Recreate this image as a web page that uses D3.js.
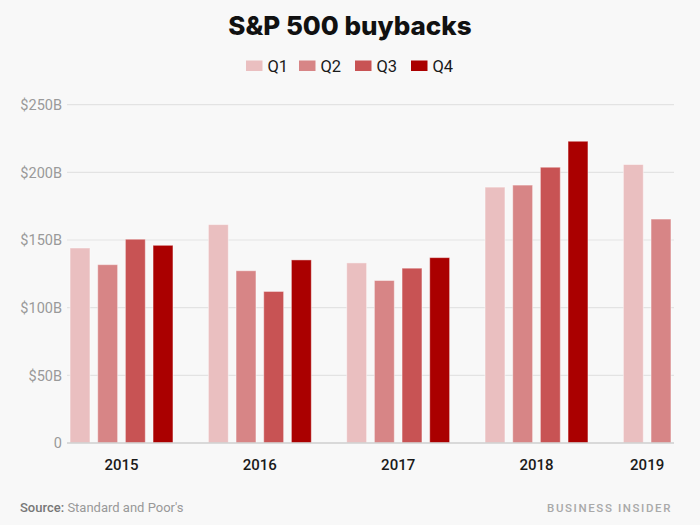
<!DOCTYPE html>
<html><head><meta charset="utf-8">
<script src="https://cdn.jsdelivr.net/npm/d3@7"></script>
<style>
html,body{margin:0;padding:0;background:#f8f8f8;}
svg{display:block;}
</style></head>
<body>
<script>
const years = ["2015","2016","2017","2018","2019"];
const quarters = ["Q1","Q2","Q3","Q4"];
const q1 = [144.1, 161.4, 133.1, 189.1, 205.8];
const q2 = [131.8, 127.3, 120.1, 190.6, 165.5];
const q3 = [150.6, 112.0, 129.2, 203.8, null];
const q4 = [146.1, 135.3, 137.0, 223.0, null];
const yTicks = [0, 50, 100, 150, 200, 250];
const colors = ["#eabfc0", "#d78586", "#c85354", "#aa0000"];

const W = 700, H = 525;
const svg = d3.select("body").append("svg").attr("width", W).attr("height", H);
svg.append("rect").attr("width", W).attr("height", H).attr("fill", "#f8f8f8");

const pL = 67, pR = 674, pT = 104.7, pB = 443;

const series = [q1, q2, q3, q4];
const data = [];
const slots = [];
years.forEach((yr, i) => {
  const n = (i === years.length - 1) ? 2 : 5;
  for (let s = 0; s < n; s++) slots.push(yr + "-" + s);
  quarters.forEach((q, j) => {
    const v = series[j][i];
    if (v != null) data.push({year: yr, q: j, key: yr + "-" + j, value: v});
  });
});

const x = d3.scaleBand().domain(slots).range([pL, pR]).paddingInner(0.28).paddingOuter(0.11);
const y = d3.scaleLinear().domain([0, 250]).range([pB, pT]);

svg.append("g").selectAll("line").data(yTicks.filter(d => d > 0)).join("line")
  .attr("x1", pL).attr("x2", pR)
  .attr("y1", d => y(d)).attr("y2", d => y(d))
  .attr("stroke", "#e3e3e3").attr("stroke-width", 1.2);

svg.append("g").selectAll("text").data(yTicks).join("text")
  .attr("x", 62).attr("y", d => y(d)).attr("dy", "0.36em")
  .attr("text-anchor", "end")
  .attr("font-family", "Roboto, sans-serif").attr("font-size", 14.5)
  .attr("fill", "#9a9a9a")
  .text(d => d === 0 ? "0" : "$" + d + "B");

svg.append("g").selectAll("rect").data(data).join("rect")
  .attr("x", d => x(d.key)).attr("width", x.bandwidth())
  .attr("y", d => y(d.value)).attr("height", d => y(0) - y(d.value))
  .attr("fill", d => colors[d.q])
  .attr("stroke", "rgba(255,255,255,0.45)").attr("stroke-width", 1);

svg.append("line").attr("x1", pL).attr("x2", pR)
  .attr("y1", y(0)).attr("y2", y(0))
  .attr("stroke", "#cfcfcf").attr("stroke-width", 1.5);

svg.append("g").selectAll("text").data(years).join("text")
  .attr("x", (d, i) => {
    const n = (i === years.length - 1) ? 2 : 4;
    return (x(d + "-0") + x(d + "-" + (n - 1)) + x.bandwidth()) / 2;
  })
  .attr("y", 470)
  .attr("text-anchor", "middle")
  .attr("font-family", "Roboto, sans-serif").attr("font-size", 15).attr("font-weight", 500)
  .attr("fill", "#1a1a1a")
  .text(d => d);

svg.append("text").attr("x", 350).attr("y", 35).attr("text-anchor", "middle")
  .attr("font-family", "Inter, sans-serif").attr("font-size", 26).attr("font-weight", 800)
  .attr("fill", "#111").text("S&P 500 buybacks");

const legX = [246, 299, 355, 411];
const leg = svg.append("g").selectAll("g").data(quarters).join("g")
  .attr("transform", (d, i) => `translate(${legX[i]},60.5)`);
leg.append("rect").attr("width", 16.5).attr("height", 10.5).attr("fill", (d, i) => colors[i]);
leg.append("text").attr("x", 21.5).attr("y", 11).attr("font-family", "Roboto, sans-serif")
  .attr("font-size", 16.5).attr("fill", "#1a1a1a").text(d => d);

const src = svg.append("text").attr("x", 20).attr("y", 512)
  .attr("font-family", "Roboto, sans-serif").attr("font-size", 13).attr("fill", "#8a8a8a");
src.append("tspan").attr("fill", "#777").attr("font-weight", 500).text("Source: ");
src.append("tspan").attr("fill", "#999").text("Standard and Poor's");

svg.append("text").attr("x", 672).attr("y", 512).attr("text-anchor", "end")
  .attr("font-family", "Roboto, sans-serif").attr("font-size", 11.5)
  .attr("letter-spacing", 1.6).attr("fill", "#a9a9a9").attr("font-weight", 500)
  .text("BUSINESS INSIDER");
</script>
</body></html>
